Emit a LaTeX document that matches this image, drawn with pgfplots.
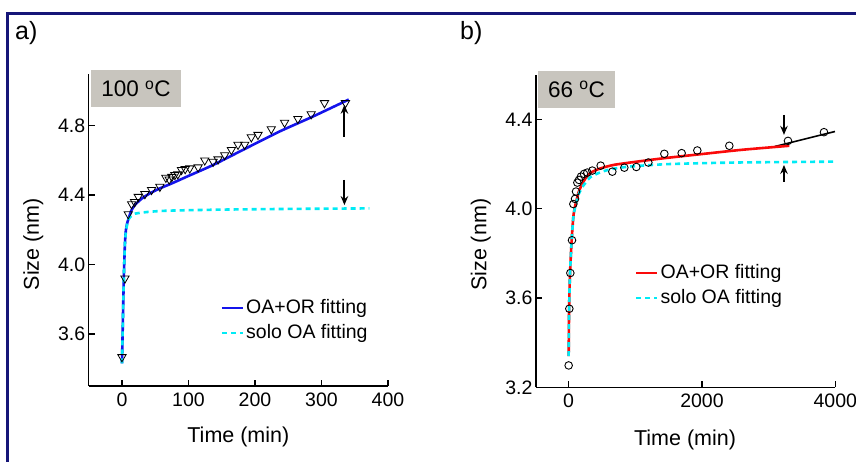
\documentclass[border=0pt]{standalone}
\usepackage{fontspec}
\setmainfont{Liberation Sans}
\usepackage{pgfplots}
\pgfplotsset{compat=1.18}
\usetikzlibrary{arrows.meta}
\definecolor{framecol}{RGB}{22,22,120}
\definecolor{boxgray}{RGB}{200,197,190}
\definecolor{fitblue}{RGB}{20,20,235}
\definecolor{fitcyan}{RGB}{0,235,245}
\definecolor{fitred}{RGB}{250,10,10}

\tikzset{arr/.style={line width=1.9pt, -{Stealth[length=9pt,width=7.5pt,inset=3pt]}}}
\pgfplotsset{
  panel/.style={
    scale only axis, width=299.3pt, height=312.5pt,
    axis x line*=bottom, axis y line*=left,
    axis line style={line width=1.2pt, -},
    tick align=inside, major tick length=6pt,
    tick style={line width=1.2pt, black},
    minor tick num=0,
    xticklabel style={font=\fontsize{19.5}{22}\selectfont, yshift=-3pt},
    yticklabel style={font=\fontsize{19.5}{22}\selectfont},
    /pgf/number format/assume math mode=true,
    /pgf/number format/1000 sep={},
    scaled x ticks=false, scaled y ticks=false,
    yticklabel={\pgfmathprintnumber[fixed,fixed zerofill,precision=1]{\tick}},
    label style={font=\fontsize{21.5}{24}\selectfont},
    clip=false,
    legend cell align=left,
    legend image code/.code={\draw[##1] (0pt,0pt) -- (21pt,0pt);},
    legend style={draw=none, fill=none, inner sep=0pt, row sep=3pt,
      font=\fontsize{19.5}{22}\selectfont,
      nodes={text height=14pt, text depth=4pt, inner sep=2pt},
      anchor=north west},
  },
}

\begin{document}
\begin{tikzpicture}
\useasboundingbox (0pt,0pt) rectangle (856pt,461pt);
\draw[framecol, line width=3pt] (7.5pt,-5pt) -- (7.5pt,447.5pt) -- (870pt,447.5pt);

\node[anchor=west, inner sep=0pt, font=\fontsize{25}{28}\selectfont] at (15pt,428pt) {a)};
\node[anchor=west, inner sep=0pt, font=\fontsize{25}{28}\selectfont] at (460pt,428pt) {b)};

% ---------------- panel a ----------------
\begin{axis}[panel, at={(88.7pt,75pt)}, anchor=south west,
  xmin=-50, xmax=400, ymin=3.3, ymax=5.1,
  xtick={0,100,200,300,400}, ytick={3.6,4.0,4.4,4.8},
  xlabel={Time (min)}, ylabel={Size (nm)},
  x label style={at={(axis description cs:0.5,-0.162)}, anchor=center},
  y label style={at={(axis description cs:-0.185,0.454)}, anchor=center, rotate=0},
  legend style={at={(axis description cs:0.44,0.285)}},
]
\addplot[only marks, mark=triangle, mark size=4.8pt, mark options={rotate=180, black, fill=white, line width=0.8pt}, forget plot]
coordinates {
(0,3.467) (4.5,3.92) (9.5,4.29) (14.5,4.348) (19,4.36) (24.5,4.39) (34.5,4.406) (44.5,4.43) (57,4.448)
(66,4.50) (71,4.49) (75,4.505) (79.5,4.516) (84,4.52) (89.5,4.545) (95,4.55) (102,4.554) (114.5,4.56)
(124.5,4.60) (137,4.592) (144.5,4.606) (154.5,4.63) (164.5,4.66) (174.5,4.69) (184.5,4.69)
(194.5,4.733) (204.5,4.747) (224.5,4.78) (244.5,4.817) (264.5,4.839) (284.5,4.866) (304.5,4.93) (336,4.93)
};
\addplot[fitblue, line width=2.6pt, smooth, tension=0.4] coordinates {
(0,3.43) (1,3.6) (2,3.79) (3,3.95) (4.5,4.12) (6,4.2) (8,4.24) (10,4.265) (14,4.31) (20,4.345)
(30,4.38) (40,4.405) (55,4.435) (75,4.467) (100,4.51) (137,4.573) (187,4.67) (237,4.766) (287,4.852) (341,4.95)
};
\addlegendentry{OA+OR fitting}
\addplot[fitcyan, line width=2.6pt, dash pattern=on 5pt off 4pt, smooth, tension=0.4] coordinates {
(0,3.43) (1,3.6) (2,3.79) (3,3.95) (4.5,4.12) (6,4.19) (8,4.235) (10,4.26) (14,4.28) (20,4.293)
(40,4.303) (70,4.31) (150,4.316) (250,4.32) (372,4.323)
};
\addlegendentry{solo OA fitting}
\draw[arr] (axis cs:334.5,4.737) -- (axis cs:334.5,4.92);
\draw[arr] (axis cs:334.5,4.487) -- (axis cs:334.5,4.342);
\end{axis}
\node[fill=boxgray, minimum width=90.3pt, minimum height=36.6pt, anchor=south west, inner sep=0pt,
  font=\fontsize{22.5}{25}\selectfont] at (90.7pt,353.7pt) {100 \textsuperscript{o}C};

% ---------------- panel b ----------------
\begin{axis}[panel, at={(536pt,73.7pt)}, anchor=south west,
  xmin=-490, xmax=4000, ymin=3.2, ymax=4.6,
  xtick={0,2000,4000}, ytick={3.2,3.6,4.0,4.4},
  xlabel={Time (min)}, ylabel={Size (nm)},
  x label style={at={(axis description cs:0.498,-0.169)}, anchor=center},
  y label style={at={(axis description cs:-0.184,0.456)}, anchor=center, rotate=0},
  legend style={at={(axis description cs:0.33,0.401)}},
]
\addplot[only marks, mark=o, mark size=3.8pt, mark options={black, line width=0.9pt}, forget plot]
coordinates {
(0,3.298) (10,3.552) (25,3.712) (50,3.859) (70,4.021) (95,4.044) (110,4.077) (130,4.117) (155,4.129)
(185,4.144) (230,4.156) (280,4.162) (355,4.171) (480,4.193) (655,4.166) (835,4.184) (1015,4.187)
(1195,4.207) (1435,4.246) (1695,4.249) (1930,4.261) (2410,4.282) (3290,4.304) (3830,4.343)
};
\addplot[black, line width=1.6pt, forget plot] coordinates {(3095,4.279) (3995,4.346)};
\addplot[fitred, line width=2.6pt, smooth, tension=0.4] coordinates {
(0,3.34) (5,3.515) (10,3.6) (20,3.71) (45,3.86) (70,3.964) (95,4.01) (120,4.04) (150,4.075) (195,4.106)
(250,4.135) (320,4.159) (450,4.178) (670,4.196) (1000,4.21) (1420,4.226) (2000,4.245) (2600,4.264) (3310,4.282)
};
\addlegendentry{OA+OR fitting}
\addplot[fitcyan, line width=2.6pt, dash pattern=on 5pt off 4pt, smooth, tension=0.4] coordinates {
(0,3.34) (5,3.515) (10,3.6) (20,3.71) (45,3.86) (70,3.96) (95,4.005) (120,4.035) (150,4.065) (200,4.095)
(250,4.115) (320,4.14) (450,4.16) (630,4.177) (920,4.189) (1500,4.2) (2500,4.207) (4000,4.211)
};
\addlegendentry{solo OA fitting}
\draw[arr] (axis cs:3230,4.42) -- (axis cs:3230,4.331);
\draw[arr] (axis cs:3230,4.12) -- (axis cs:3230,4.196);
\end{axis}
\node[fill=boxgray, minimum width=77.3pt, minimum height=37pt, anchor=south west, inner sep=0pt,
  font=\fontsize{22.5}{25}\selectfont] at (537.7pt,353pt) {66 \textsuperscript{o}C};
\end{tikzpicture}
\end{document}
